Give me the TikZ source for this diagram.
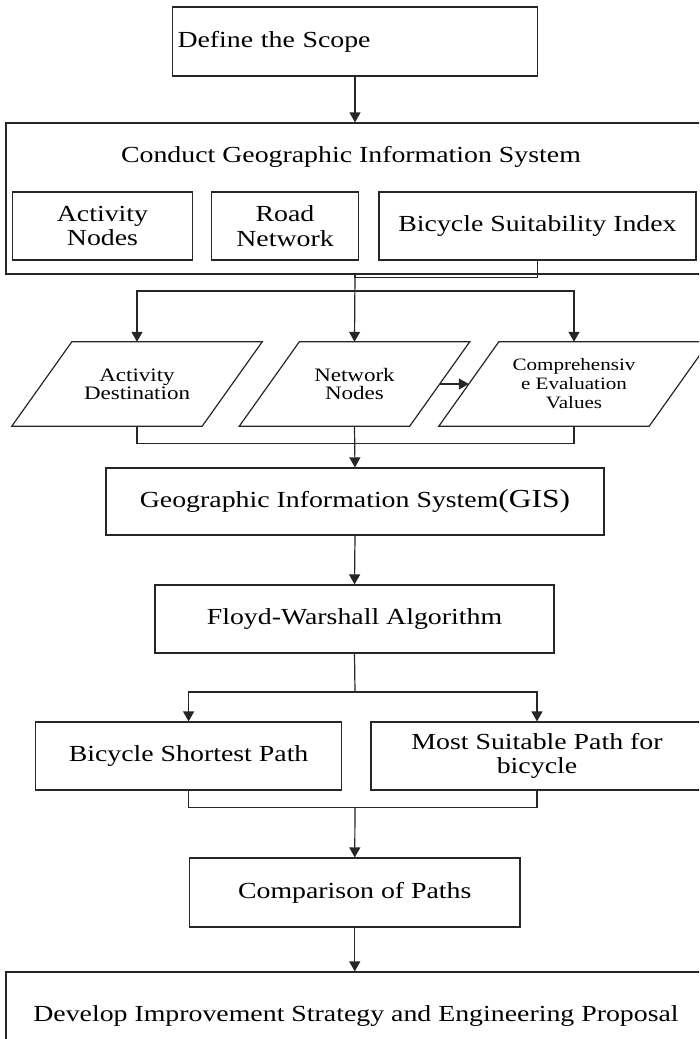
\documentclass[tikz,border=0pt]{standalone}
\usepackage{fontspec}
\setmainfont{Liberation Serif}[FakeStretch=1.21]
\usetikzlibrary{arrows.meta}

\begin{document}
\begin{tikzpicture}[x=1pt,y=-1pt,
        box/.style={draw=black!85,line width=1.2pt,inner sep=0pt,align=center,
            font=\fontsize{23}{24.5}\selectfont},
        data/.style={inner sep=0pt,align=center,minimum height=84pt,
            font=\fontsize{19}{18}\selectfont},
        link/.style={draw=black!85,line width=1.2pt},
        arr/.style={link,-{Triangle[width=11pt,length=10pt]}}]
    \useasboundingbox (0,0) rectangle (699,1039);
    \clip (0,0) rectangle (699,1039);

    % top part
    \node[box,minimum width=365pt,minimum height=69pt,text width=355pt,align=left] (scope) at (355,41.5) {Define the Scope};
    \node[box,minimum width=704pt,minimum height=151pt] (conduct) at (358,198.5) {};
    \node[font=\fontsize{23}{24.5}\selectfont] (conducttitle) at (351,157) {Conduct Geographic Information System};
    \begin{scope}[every node/.style={box,minimum height=68pt}]
        \node[minimum width=180pt] (actnodes) at (102.5,226) {Activity\\Nodes};
        \node[minimum width=146.5pt] (roadnet) at (285,226) {Road\\Network};
        \node[minimum width=317pt] (bsi) at (537.5,226) {Bicycle Suitability Index};
    \end{scope}
    \draw[arr] (scope) -- (scope.south |- conduct.north);

    % data layer
    \node[data,minimum width=250pt] (actdest) at (137,384) {Activity\\Destination};
    \node[data,minimum width=230pt] (netnodes) at (354.5,384) {Network\\Nodes};
    \node[data,minimum width=270pt,font=\fontsize{17.4}{19}\selectfont] (evalval) at (574,384) {Comprehensiv\\e Evaluation\\Values};
    \foreach \n in {actdest,netnodes,evalval}
        \draw[link] ([xshift=60pt]\n.north west) -- (\n.north east)
            -- ([xshift=-60pt]\n.south east) -- (\n.south west) -- cycle;

    \coordinate (trunk1) at (scope.south |- conduct.south);
    \coordinate (fork1) at (355,291);
    \draw[link] (bsi.south) -- ++(0,17) -| (trunk1);
    \draw[arr] (trunk1) -- (netnodes.north);
    \draw[arr] (fork1) -| (actdest.north);
    \draw[arr] (fork1) -| (evalval.north);
    \draw[arr] ([xshift=-30pt]netnodes.east) -- ([xshift=30pt]evalval.west);

    % analysis
    \node[box,minimum width=498pt,minimum height=67pt] (gis) at (355,501.5) {Geographic Information System{\fontsize{26}{26}\selectfont(GIS)}};
    \node[box,minimum width=399pt,minimum height=68pt] (floyd) at (354.5,619) {Floyd-Warshall Algorithm};
    \draw[link] (actdest.south) -- ++(0,17) -| (evalval.south);
    \draw[arr] (netnodes.south) -- (gis.north);
    \draw[arr] (gis.south) -- (floyd.north);

    % results
    \begin{scope}[every node/.style={box,minimum height=68pt}]
        \node[minimum width=306pt] (shortest) at (188.6,756) {Bicycle Shortest Path};
        \node[minimum width=332pt] (suitable) at (537,756) {Most Suitable Path for\\bicycle};
    \end{scope}
    \coordinate (fork2) at (355,692);
    \draw[link] (floyd.south) -- (fork2);
    \draw[arr] (fork2) -| (shortest.north);
    \draw[arr] (fork2) -| (suitable.north);

    \node[box,minimum width=330.5pt,minimum height=69pt] (compare) at (354.75,892.5) {Comparison of Paths};
    \node[box,minimum width=700pt,minimum height=88pt] (develop) at (356,1016) {Develop Improvement Strategy and Engineering Proposal};
    \coordinate (join2) at (355,807);
    \draw[link] (shortest.south) -- ++(0,17) -| (suitable.south);
    \draw[arr] (join2) -- (compare.north);
    \draw[arr] (compare.south) -- (compare.south |- develop.north);
\end{tikzpicture}
\end{document}
